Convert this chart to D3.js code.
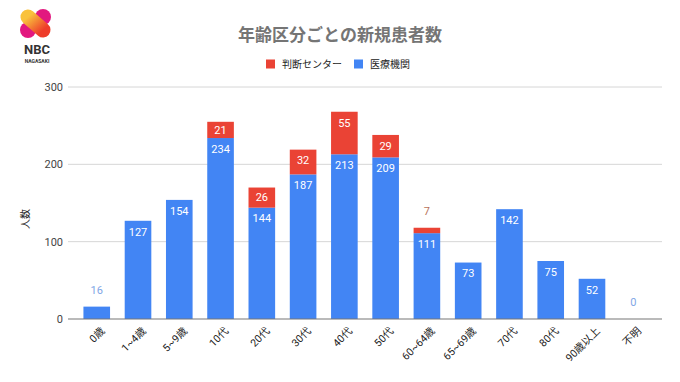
<!DOCTYPE html>
<html><head><meta charset="utf-8">
<script src="https://cdn.jsdelivr.net/npm/d3@7"></script>
<style>
body{margin:0;background:#fff;}
svg{display:block;font-family:Roboto,"Noto Sans CJK JP",sans-serif;}
</style></head>
<body><svg id="c" width="680" height="382"></svg>
<script>
const categories = ["0歳","1~4歳","5~9歳","10代","20代","30代","40代","50代","60~64歳","65~69歳","70代","80代","90歳以上","不明"];
const iryoKikan = [16,127,154,234,144,187,213,209,111,73,142,75,52,0];
const handanCenter = [0,0,0,21,26,32,55,29,7,0,0,0,0,0];
const yTicks = [0,100,200,300];
const seriesNames = ["判断センター","医療機関"];
const colors = {blue:"#4285f4", red:"#ea4335"};

const svg = d3.select("#c");
const x = d3.scaleBand().domain(categories).range([76,654]).paddingInner(0.355).paddingOuter(0.18);
const y = d3.scaleLinear().domain([0,300]).range([319,87]);

// gridlines
svg.append("g").selectAll("line").data(yTicks.filter(d=>d>0)).join("line")
  .attr("x1",68).attr("x2",662).attr("y1",d=>y(d)).attr("y2",d=>y(d))
  .attr("stroke","#d6d6d6").attr("stroke-width",1);
// tick labels
svg.append("g").selectAll("text").data(yTicks).join("text")
  .attr("x",63).attr("y",d=>y(d)).attr("dy","0.35em").attr("text-anchor","end")
  .attr("font-size",11).attr("fill","#444").text(d=>d);

// bars
const data = categories.map((c,i)=>({c, b:iryoKikan[i], r:handanCenter[i]}));
const g = svg.append("g");
g.selectAll("rect.b").data(data).join("rect").attr("class","b")
  .attr("x",d=>x(d.c)).attr("width",x.bandwidth())
  .attr("y",d=>y(d.b)).attr("height",d=>y(0)-y(d.b)).attr("fill",colors.blue);
g.selectAll("rect.r").data(data.filter(d=>d.r>0)).join("rect").attr("class","r")
  .attr("x",d=>x(d.c)).attr("width",x.bandwidth())
  .attr("y",d=>y(d.b+d.r)).attr("height",d=>y(d.b)-y(d.b+d.r)).attr("fill",colors.red);

// baseline
svg.append("line").attr("x1",68).attr("x2",662).attr("y1",y(0)).attr("y2",y(0))
  .attr("stroke","#777").attr("stroke-width",1.2);

// value labels
function lbl(val, base, outColor){
  const top = y(base+val), h = y(base)-y(base+val);
  const inside = h >= 14;
  return {v:val, yy: inside ? top + Math.min(11, h/2) : top - 16.5, fill: inside ? "#fff" : outColor};
}
const labels = [];
data.forEach(d=>{
  const lb = lbl(d.b,0,"#7fa6e6"); lb.c=d.c; labels.push(lb);
  if(d.r>0){ const lr = lbl(d.r,d.b,"#b8735a"); lr.c=d.c; labels.push(lr); }
});
svg.append("g").selectAll("text").data(labels).join("text")
  .attr("x",d=>x(d.c)+x.bandwidth()/2).attr("y",d=>d.yy).attr("dy","0.35em")
  .attr("text-anchor","middle").attr("font-size",11).attr("fill",d=>d.fill).text(d=>d.v);

// x labels
svg.append("g").selectAll("text").data(categories).join("text")
  .attr("transform",d=>`translate(${x(d)+x.bandwidth()/2+6},${329}) rotate(-45)`)
  .attr("text-anchor","end").attr("dy","0.35em").attr("font-size",10.5).attr("fill","#222").text(d=>d);

// y axis title
svg.append("text").attr("transform","translate(25,219) rotate(-90)").attr("text-anchor","middle")
  .attr("dy","0.35em").attr("font-size",10).attr("fill","#222").text("人数");

// title
svg.append("text").attr("x",340).attr("y",35).attr("dy","0.35em").attr("text-anchor","middle")
  .attr("font-size",17).attr("font-weight","bold").attr("fill","#757575").text("年齢区分ごとの新規患者数");

// legend
const leg = svg.append("g");
const legItems = [{n:seriesNames[0],c:colors.red,x:266},{n:seriesNames[1],c:colors.blue,x:354}];
leg.selectAll("rect").data(legItems).join("rect").attr("x",d=>d.x).attr("y",59.5).attr("width",9).attr("height",9).attr("fill",d=>d.c);
leg.selectAll("text").data(legItems).join("text").attr("x",d=>d.x+16).attr("y",64).attr("dy","0.35em")
  .attr("font-size",10).attr("fill","#222").text(d=>d.n);

// logo
const defs = svg.append("defs");
const gr = defs.append("linearGradient").attr("id","lg").attr("x1","0").attr("y1","0").attr("x2","1").attr("y2","1");
gr.append("stop").attr("offset","0").attr("stop-color","#f9c23c");
gr.append("stop").attr("offset","1").attr("stop-color","#ee3d2a");
const logo = svg.append("g");
logo.append("circle").attr("cx",43).attr("cy",17).attr("r",8).attr("fill","#e2187f");
logo.append("circle").attr("cx",28).attr("cy",30).attr("r",8).attr("fill","#e2187f");
logo.append("line").attr("x1",28).attr("y1",17).attr("x2",43).attr("y2",30)
  .attr("stroke","url(#lg)").attr("stroke-width",15).attr("stroke-linecap","round");
logo.append("text").attr("x",37).attr("y",49).attr("dy","0.35em").attr("text-anchor","middle")
  .attr("font-size",13).attr("font-weight","bold").attr("fill","#333").text("NBC");
logo.append("text").attr("x",37).attr("y",61.5).attr("dy","0.35em").attr("text-anchor","middle")
  .attr("font-size",5).attr("font-weight","bold").attr("fill","#333").text("NAGASAKI");
</script></body></html>
